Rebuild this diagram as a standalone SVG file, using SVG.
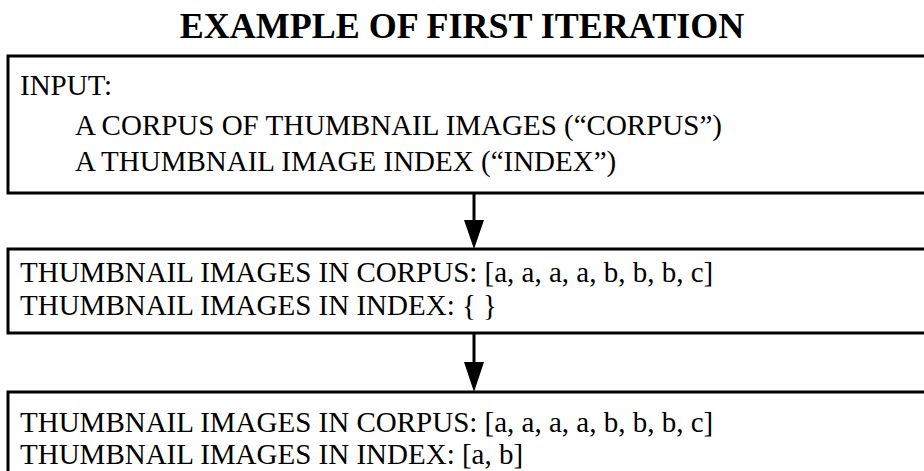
<svg xmlns="http://www.w3.org/2000/svg" width="924" height="471" viewBox="0 0 924 471">
<style>
.box{fill:#fff;stroke:#000;stroke-width:3}
.t{font-family:"Liberation Serif","Times New Roman",serif;font-size:29px;fill:#000}
.title{font-family:"Liberation Serif","Times New Roman",serif;font-size:36px;font-weight:bold;fill:#000}
.conn{stroke:#000;stroke-width:3;fill:none}
.head{fill:#000}
</style>
<rect width="924" height="471" fill="#fff"/>
<text class="title" x="462" y="38" text-anchor="middle">EXAMPLE OF FIRST ITERATION</text>
<g id="node-input">
<rect class="box" x="8" y="56" width="924" height="137"/>
<text class="t" x="20" y="95">INPUT:</text>
<text class="t" x="75" y="135">A CORPUS OF THUMBNAIL IMAGES (“CORPUS”)</text>
<text class="t" x="75" y="171">A THUMBNAIL IMAGE INDEX (“INDEX”)</text>
</g>
<g id="node-state0">
<rect class="box" x="8" y="249" width="924" height="84"/>
<text class="t" x="20" y="282">THUMBNAIL IMAGES IN CORPUS: [a, a, a, a, b, b, b, c]</text>
<text class="t" x="20" y="315">THUMBNAIL IMAGES IN INDEX: { }</text>
</g>
<g id="node-state1">
<rect class="box" x="8" y="392" width="924" height="100"/>
<text class="t" x="20" y="432">THUMBNAIL IMAGES IN CORPUS: [a, a, a, a, b, b, b, c]</text>
<text class="t" x="20" y="464">THUMBNAIL IMAGES IN INDEX: [a, b]</text>
</g>
<g id="connectors">
<line class="conn" x1="474" y1="193" x2="474" y2="222"/>
<path class="head" d="M464,220 L484,220 L474,249 Z"/>
<line class="conn" x1="474" y1="333" x2="474" y2="364"/>
<path class="head" d="M464,362 L484,362 L474,392 Z"/>
</g>
</svg>
